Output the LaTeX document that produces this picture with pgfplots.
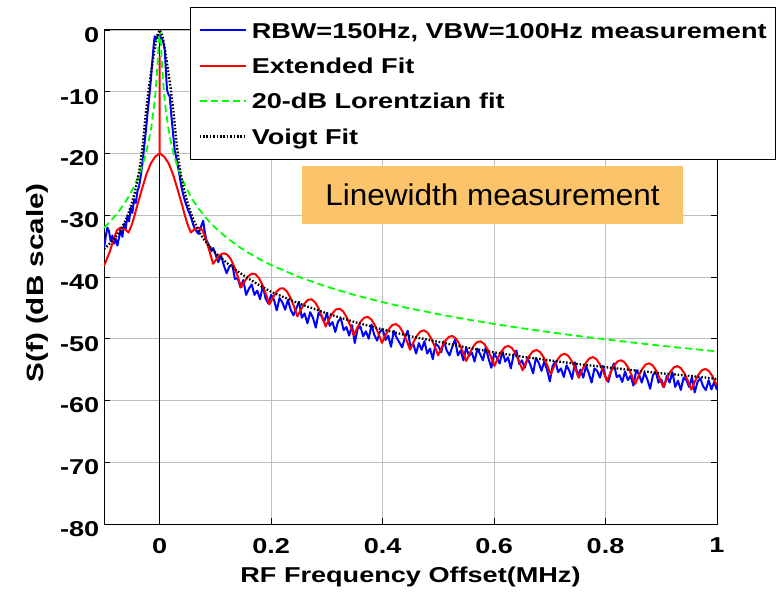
\documentclass[border=0pt]{standalone}
\usepackage{fontspec}
\setmainfont{Liberation Sans}[FakeStretch=1.26]
\newfontfamily\boxfont{Liberation Sans}[FakeStretch=1.05]
\usepackage{pgfplots}
\pgfplotsset{compat=1.18}
\definecolor{boxorange}{RGB}{251,196,106}
\newcommand{\axfont}{\fontsize{21.5}{25}\selectfont\bfseries}
\begin{document}
\begin{tikzpicture}
\path[use as bounding box] (0,0) rectangle (778pt,591pt);
\begin{axis}[
 at={(104pt,67pt)}, anchor=south west,
 width=613pt, height=494pt, scale only axis,
 xmin=-0.1, xmax=1, ymin=-80, ymax=0,
 xtick={0,0.2,0.4,0.6,0.8,1},
 ytick={-80,-70,-60,-50,-40,-30,-20,-10,0},
 tick align=inside, xtick pos=both, ytick pos=both,
 major tick length=6pt,
 grid=major, major grid style={gray!50, line width=0.8pt},
 axis line style={line width=1pt},
 every tick/.append style={black, line width=0.8pt},
 /pgf/number format/assume math mode=true,
 ticklabel style={font=\axfont},
 xticklabel style={inner sep=0pt, yshift=-14pt},
 yticklabel style={inner sep=0pt, xshift=-4.5pt, yshift=-5pt},
 xlabel={RF Frequency Offset(MHz)},
 ylabel={S(f) (dB scale)},
 xlabel style={font=\axfont, at={(axis description cs:0.5,-0.1063)}, anchor=center},
 ylabel style={font=\fontsize{23.5}{27}\selectfont\bfseries, at={(axis description cs:-0.1093,0.488)}, anchor=center},
 legend cell align=left,
 legend image code/.code={\draw[#1] (0pt,0pt) -- (46pt,0pt);},
 legend style={at={(axis description cs:0.1403,1.0466)}, anchor=north west,
   draw=black, line width=1pt, fill=white, inner xsep=8pt, inner ysep=11.5pt,
   row sep=12.3pt, column sep=4pt, font=\axfont,
   nodes={inner sep=1pt, text height=18.2pt, text depth=2.8pt}},
]
\addplot[black, line width=1pt, forget plot] coordinates {(0,-80) (0,0)};
% measurement
\addplot[blue, line width=2pt, line join=round] coordinates {
(-0.1,-35.4) (-0.097,-33.5) (-0.094,-32.0) (-0.091,-32.6) (-0.088,-34.2) (-0.085,-33.3) (-0.082,-34.6) (-0.079,-33.8) (-0.076,-34.9) (-0.073,-33.6) (-0.07,-32.4) (-0.067,-33.5) (-0.064,-31.4) (-0.061,-32.2) (-0.058,-30.1) (-0.055,-31.0) (-0.052,-28.8) (-0.049,-29.6) (-0.046,-27.4) (-0.043,-28.0) (-0.04,-26.1) (-0.037,-25.3) (-0.034,-23.6) (-0.031,-21.6) (-0.028,-19.0) (-0.025,-16.5) (-0.022,-13.6) (-0.019,-11.0) (-0.016,-8.2) (-0.013,-4.8) (-0.011,-2.6) (-0.009,-1.0) (-0.007,-1.5) (-0.005,-1.2) (-0.003,-0.8) (-0.001,-1.5) (0.001,-1.0) (0.003,-1.4) (0.005,-1.6) (0.007,-2.2) (0.009,-3.2) (0.011,-6.5) (0.013,-9.7) (0.015,-10.3) (0.018,-10.8) (0.021,-14.0) (0.024,-16.8) (0.027,-19.6) (0.030,-20.8) (0.033,-22.2) (0.036,-23.8) (0.039,-25.4) (0.042,-26.6) (0.045,-27.6) (0.048,-28.4) (0.051,-29.2) (0.054,-29.8) (0.057,-30.6) (0.060,-31.5) (0.063,-32.2) (0.066,-32.6) (0.069,-33.0) (0.072,-32.4) (0.075,-31.6) (0.078,-30.9) (0.081,-32.8) (0.084,-34.1) (0.087,-34.6) (0.090,-35.2) (0.093,-35.8) (0.096,-35.3)
(0.100,-36.3) (0.105,-37.6) (0.110,-36.5) (0.115,-38.1) (0.120,-39.4) (0.125,-38.3) (0.130,-38.0) (0.135,-40.3) (0.140,-40.2) (0.145,-41.7) (0.150,-40.5) (0.155,-42.9) (0.160,-41.9) (0.165,-41.2) (0.170,-42.9) (0.175,-42.2) (0.180,-43.6) (0.185,-41.4) (0.190,-43.5) (0.195,-44.3) (0.200,-42.9) (0.205,-43.7) (0.210,-45.4) (0.215,-43.4) (0.220,-44.1) (0.225,-45.3) (0.230,-43.7) (0.235,-45.3) (0.240,-46.2) (0.245,-45.1) (0.250,-44.0) (0.255,-46.6) (0.260,-45.9) (0.265,-47.5) (0.270,-45.7) (0.275,-46.6) (0.280,-48.2) (0.285,-45.8) (0.290,-46.3) (0.295,-47.3) (0.300,-45.8) (0.305,-47.9) (0.310,-47.3) (0.315,-48.9) (0.320,-47.2) (0.325,-46.7) (0.330,-48.6) (0.335,-48.1) (0.340,-49.5) (0.345,-47.8) (0.350,-50.7) (0.355,-48.4) (0.360,-48.0) (0.365,-49.6) (0.370,-48.8) (0.375,-50.0) (0.380,-47.7) (0.385,-49.4) (0.390,-50.3) (0.395,-48.9) (0.400,-48.4) (0.405,-50.2) (0.410,-49.5) (0.415,-51.3) (0.420,-48.7) (0.425,-49.8) (0.430,-50.6) (0.435,-51.4) (0.440,-49.8) (0.445,-48.7) (0.450,-51.3) (0.455,-50.8) (0.460,-52.4) (0.465,-50.7) (0.470,-51.8) (0.475,-50.4) (0.480,-52.4) (0.485,-51.6) (0.490,-53.3) (0.495,-50.8) (0.500,-51.2) (0.505,-52.2) (0.510,-50.4) (0.515,-51.9) (0.520,-52.7) (0.525,-51.3) (0.530,-50.1) (0.535,-52.7) (0.540,-51.9) (0.545,-53.5) (0.550,-51.4) (0.555,-52.8) (0.560,-52.2) (0.565,-53.7) (0.570,-51.6) (0.575,-52.5) (0.580,-53.5) (0.585,-51.4) (0.590,-53.2) (0.595,-54.7) (0.600,-52.4) (0.605,-53.1) (0.610,-54.0) (0.615,-52.0) (0.620,-53.7) (0.625,-53.0) (0.630,-54.8) (0.635,-52.6) (0.640,-51.9) (0.645,-54.1) (0.650,-53.5) (0.655,-54.7) (0.660,-53.1) (0.665,-54.2) (0.670,-55.6) (0.675,-53.1) (0.680,-53.9) (0.685,-55.2) (0.690,-53.7) (0.695,-55.0) (0.700,-56.9) (0.705,-54.4) (0.710,-53.7) (0.715,-55.4) (0.720,-54.8) (0.725,-56.2) (0.730,-54.3) (0.735,-55.2) (0.740,-56.5) (0.745,-53.8) (0.750,-55.9) (0.755,-55.0) (0.760,-56.3) (0.765,-54.4) (0.770,-55.6) (0.775,-57.1) (0.780,-54.8) (0.785,-55.2) (0.790,-56.3) (0.795,-54.4) (0.800,-56.2) (0.805,-57.0) (0.810,-55.2) (0.815,-54.0) (0.820,-56.2) (0.825,-55.9) (0.830,-57.0) (0.835,-55.3) (0.840,-56.7) (0.845,-56.0) (0.850,-57.6) (0.855,-55.1) (0.860,-55.8) (0.865,-57.1) (0.870,-55.5) (0.875,-56.6) (0.880,-58.1) (0.885,-55.9) (0.890,-55.3) (0.895,-57.1) (0.900,-56.6) (0.905,-57.8) (0.910,-56.0) (0.915,-57.1) (0.920,-55.4) (0.925,-57.8) (0.930,-56.8) (0.935,-58.3) (0.940,-56.3) (0.945,-56.7) (0.950,-57.8) (0.955,-56.2) (0.960,-58.7) (0.965,-57.0) (0.970,-56.4) (0.975,-57.7) (0.980,-58.3) (0.985,-56.7) (0.990,-58.2) (0.995,-57.0) (1.000,-58.3)
};
\addlegendentry{RBW=150Hz, VBW=100Hz measurement}
% extended fit
\addplot[red, line width=2pt, line join=round] coordinates {
(-0.1,-38.2) (-0.0894,-35.85) (-0.0831,-33.99) (-0.0768,-32.42) (-0.0705,-32.0) (-0.062,-32.3) (-0.056,-32.8) (-0.05,-31.5) (-0.045,-30.0) (-0.04,-28.3) (-0.031,-25.5) (-0.024,-23.4) (-0.016,-21.6) (-0.008,-20.5) (0,-20) (0,-4.3) (0,-20) (0.008,-20.5) (0.016,-21.6) (0.024,-23.4) (0.031,-25.5) (0.04,-28.3) (0.045,-30.0) (0.05,-31.5) (0.056,-32.8) (0.062,-32.3) (0.0705,-32.0)
(0.0768,-32.42) (0.0831,-33.99) (0.0894,-35.85) (0.0957,-37.87) (0.1020,-37.08) (0.1084,-36.42) (0.1147,-36.15) (0.1210,-36.37) (0.1273,-37.08) (0.1336,-38.30) (0.1399,-39.91) (0.1462,-41.67) (0.1526,-40.68) (0.1589,-39.88) (0.1652,-39.46) (0.1715,-39.53) (0.1778,-40.15) (0.1841,-41.26) (0.1904,-42.74) (0.1968,-44.44) (0.2031,-43.34) (0.2094,-42.41) (0.2157,-41.87) (0.2220,-41.84) (0.2283,-42.35) (0.2346,-43.36) (0.2409,-44.77) (0.2472,-46.39) (0.2535,-45.23) (0.2599,-44.27) (0.2662,-43.69) (0.2725,-43.62) (0.2788,-44.09) (0.2851,-45.07) (0.2914,-46.44) (0.2977,-48.03) (0.3040,-46.83) (0.3103,-45.84) (0.3166,-45.23) (0.3230,-45.14) (0.3293,-45.59) (0.3356,-46.55) (0.3419,-47.89) (0.3482,-49.45) (0.3545,-48.23) (0.3608,-47.21) (0.3671,-46.58) (0.3734,-46.46) (0.3797,-46.88) (0.3861,-47.82) (0.3924,-49.14) (0.3987,-50.67) (0.4050,-49.43) (0.4113,-48.40) (0.4176,-47.76) (0.4239,-47.63) (0.4302,-48.03) (0.4365,-48.95) (0.4428,-50.26) (0.4492,-51.78) (0.4555,-50.52) (0.4618,-49.46) (0.4681,-48.80) (0.4744,-48.64) (0.4807,-49.02) (0.4870,-49.92) (0.4933,-51.20) (0.4996,-52.69) (0.5059,-51.43) (0.5123,-50.37) (0.5186,-49.70) (0.5249,-49.55) (0.5312,-49.93) (0.5375,-50.83) (0.5438,-52.11) (0.5501,-53.60) (0.5564,-52.32) (0.5627,-51.25) (0.5690,-50.57) (0.5754,-50.41) (0.5817,-50.78) (0.5880,-51.66) (0.5943,-52.93) (0.6006,-54.41) (0.6069,-53.12) (0.6132,-52.03) (0.6195,-51.34) (0.6258,-51.16) (0.6321,-51.52) (0.6385,-52.39) (0.6448,-53.65) (0.6511,-55.11) (0.6574,-53.81) (0.6637,-52.71) (0.6700,-52.01) (0.6763,-51.82) (0.6826,-52.16) (0.6889,-53.02) (0.6952,-54.26) (0.7016,-55.72) (0.7079,-54.41) (0.7142,-53.32) (0.7205,-52.62) (0.7268,-52.42) (0.7331,-52.77) (0.7394,-53.62) (0.7457,-54.87) (0.7520,-56.32) (0.7583,-55.00) (0.7647,-53.90) (0.7710,-53.18) (0.7773,-52.97) (0.7836,-53.31) (0.7899,-54.15) (0.7962,-55.38) (0.8025,-56.83) (0.8088,-55.51) (0.8151,-54.40) (0.8214,-53.68) (0.8278,-53.48) (0.8341,-53.81) (0.8404,-54.65) (0.8467,-55.89) (0.8530,-57.33) (0.8593,-56.01) (0.8656,-54.91) (0.8719,-54.19) (0.8782,-53.98) (0.8845,-54.32) (0.8909,-55.16) (0.8972,-56.39) (0.9035,-57.83) (0.9098,-56.50) (0.9161,-55.38) (0.9224,-54.65) (0.9287,-54.43) (0.9350,-54.75) (0.9413,-55.58) (0.9476,-56.80) (0.9540,-58.24) (0.9603,-56.92) (0.9666,-55.82) (0.9729,-55.10) (0.9792,-54.89) (0.9855,-55.23) (0.9918,-56.07) (0.9981,-57.30) (1.0,-57.5)
};
\addlegendentry{Extended Fit}
% Lorentzian
\addplot[green, line width=1.8pt, dash pattern=on 7pt off 4pt] coordinates {
(-0.1,-32.04) (-0.09,-31.13) (-0.08,-30.11) (-0.07,-28.95) (-0.06,-27.61) (-0.05,-26.03) (-0.04,-24.10) (-0.03,-21.61) (-0.025,-20.04) (-0.02,-18.13) (-0.015,-15.68) (-0.01,-12.30) (-0.008,-10.51) (-0.006,-8.30) (-0.004,-5.51) (-0.002,-2.15) (0,0) (0.002,-2.15) (0.004,-5.51) (0.006,-8.30) (0.008,-10.51) (0.01,-12.30) (0.015,-15.68) (0.02,-18.13) (0.025,-20.04) (0.03,-21.61) (0.04,-24.10) (0.05,-26.03) (0.06,-27.61) (0.07,-28.95) (0.08,-30.11) (0.09,-31.13) (0.1,-32.04) (0.12,-33.63) (0.14,-34.97) (0.16,-36.12) (0.18,-37.15) (0.2,-38.06) (0.25,-40.00) (0.3,-41.58) (0.35,-42.92) (0.4,-44.08) (0.45,-45.11) (0.5,-46.02) (0.55,-46.85) (0.6,-47.60) (0.65,-48.30) (0.7,-48.94) (0.75,-49.54) (0.8,-50.10) (0.85,-50.63) (0.9,-51.13) (0.95,-51.60) (1.0,-52.04)
};
\addlegendentry{20-dB Lorentzian fit}
% Voigt
\addplot[black, line width=2.3pt, dash pattern=on 1.6pt off 1.8pt] coordinates {
(-0.1,-35.5) (-0.09,-34.6) (-0.08,-33.6) (-0.07,-32.4) (-0.06,-30.6) (-0.055,-29.4) (-0.05,-28.0) (-0.045,-26.4) (-0.04,-24.4) (-0.035,-21.8) (-0.03,-18.2) (-0.025,-13.5) (-0.02,-9.7) (-0.015,-6.5) (-0.01,-3.5) (-0.005,-1.0) (0,0) (0.005,-1.0) (0.01,-3.5) (0.015,-6.5) (0.02,-9.7) (0.025,-13.5) (0.03,-18.2) (0.035,-21.8) (0.04,-24.4) (0.045,-26.4) (0.05,-28.0) (0.055,-29.4) (0.06,-30.6) (0.07,-32.6) (0.08,-34.0) (0.09,-35.1) (0.1,-36.1) (0.12,-37.7) (0.14,-39.1) (0.16,-40.3) (0.18,-41.4) (0.2,-42.4) (0.25,-44.3) (0.3,-45.9) (0.35,-47.3) (0.4,-48.5) (0.45,-49.6) (0.5,-50.5) (0.55,-51.4) (0.6,-52.2) (0.65,-52.9) (0.7,-53.5) (0.75,-54.1) (0.8,-54.6) (0.85,-55.1) (0.9,-55.6) (0.95,-56.0) (1.0,-56.5)
};
\addlegendentry{Voigt Fit}
\node[fill=boxorange, minimum width=381pt, minimum height=58pt, inner sep=0pt, font=\boxfont\fontsize{30}{34}\selectfont] at (axis cs:0.5971,-26.72) {Linewidth measurement};
\end{axis}
\end{tikzpicture}
\end{document}
